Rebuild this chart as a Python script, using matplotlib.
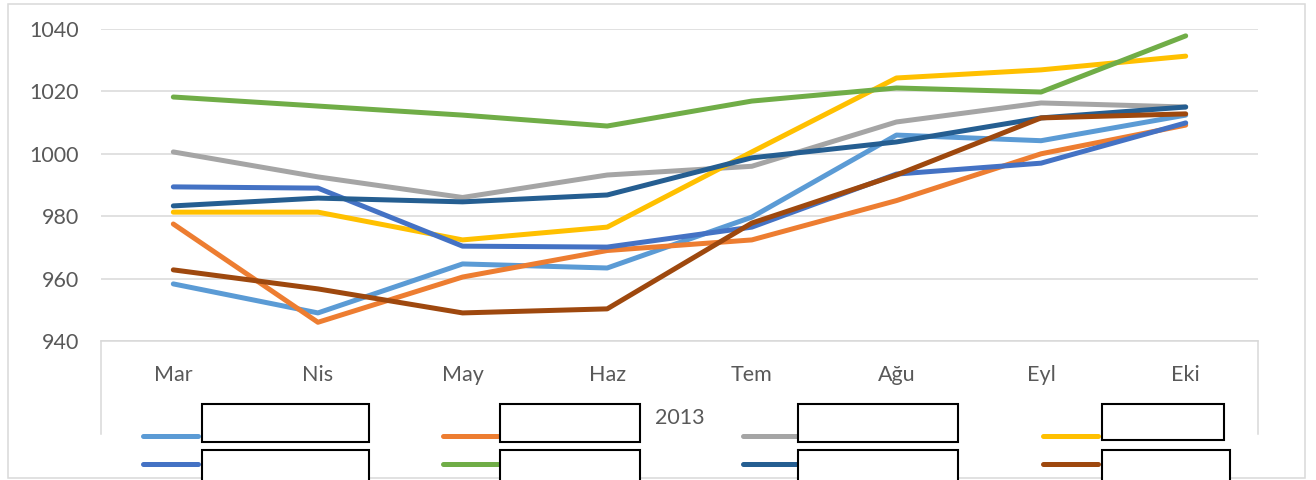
import matplotlib.pyplot as plt
from matplotlib.lines import Line2D
from matplotlib.patches import Rectangle

plt.rcParams['font.family'] = ['Lato', 'DejaVu Sans']

# category labels (months, 2013)
months = ["Mar", "Nis", "May", "Haz", "Tem", "Ağu", "Eyl", "Eki"]
year_label = "2013"

# series values
s1 = [958.3, 949.0, 964.7, 963.4, 979.7, 1006.0, 1004.2, 1012.4]
s2 = [977.5, 946.0, 960.5, 969.0, 972.4, 985.0, 1000.0, 1009.2]
s3 = [1000.6, 992.6, 986.0, 993.2, 996.0, 1010.2, 1016.3, 1015.0]
s4 = [981.3, 981.3, 972.4, 976.5, 1000.6, 1024.3, 1026.9, 1031.3]
s5 = [989.4, 989.0, 970.4, 970.1, 976.5, 993.5, 997.0, 1009.9]
s6 = [1018.2, 1015.3, 1012.4, 1008.9, 1016.9, 1021.1, 1019.8, 1037.8]
s7 = [983.3, 985.8, 984.6, 986.8, 998.7, 1003.8, 1011.5, 1015.0]
s8 = [962.8, 956.7, 949.0, 950.3, 977.8, 993.2, 1011.5, 1012.8]

series = [s1, s2, s3, s4, s5, s6, s7, s8]
colors = ["#5B9BD5", "#ED7D31", "#A5A5A5", "#FFC000",
          "#4472C4", "#70AD47", "#255E91", "#9E480E"]

W, H = 1316, 480
fig = plt.figure(figsize=(W / 100, H / 100), dpi=100)

# plot area in pixel terms
px_l, px_r, px_t, px_b = 101, 1258, 29, 341
ax = fig.add_axes([px_l / W, 1 - px_b / H, (px_r - px_l) / W, (px_b - px_t) / H])

x = list(range(len(months)))
for vals, c in zip(series, colors):
    ax.plot(x, vals, color=c, lw=3.6, solid_capstyle='round',
            solid_joinstyle='round', clip_on=False)

ax.set_xlim(-0.5, len(months) - 0.5)
ax.set_ylim(940, 1040)
ax.set_yticks(range(940, 1041, 20))
ax.set_xticks(x)
ax.set_xticklabels(months)
ax.yaxis.grid(True, color="#D9D9D9", lw=1.1)
ax.set_axisbelow(True)
for side in ["top", "left", "right"]:
    ax.spines[side].set_visible(False)
ax.spines["bottom"].set_color("#D9D9D9")
ax.spines["bottom"].set_linewidth(1.1)
ax.tick_params(axis='both', length=0, labelsize=15.5, labelcolor="#595959")
ax.tick_params(axis='y', pad=16)
ax.tick_params(axis='x', pad=17)

# second level category label
ax.text(0.5, -0.247, year_label, transform=ax.transAxes, ha='center',
        va='center', fontsize=15.5, color="#595959")

# category axis box sides
for px in (px_l, px_r):
    fig.add_artist(Line2D([px / W, px / W], [1 - px_b / H, 1 - 434 / H],
                          color="#D9D9D9", lw=1.1))

# outer chart frame
fig.add_artist(Rectangle((8 / W, 1 - 478 / H), (1305 - 8) / W, (478 - 4) / H,
                         transform=fig.transFigure, fill=False,
                         edgecolor="#D9D9D9", lw=1.1))

# legend: 4 columns, 2 rows
for i, c in enumerate(colors):
    col, row = i % 4, i // 4
    x0 = 143 + 300 * col
    y0 = 436 + 28 * row
    fig.add_artist(Line2D([x0 / W, (x0 + 55) / W], [1 - y0 / H, 1 - y0 / H],
                          color=c, lw=3.6, solid_capstyle='round'))

# white boxes hiding the legend names
boxes = [(202, 404, 369, 442), (500, 404, 640, 442), (798, 404, 958, 442),
         (1102, 404, 1224, 440), (202, 450, 369, 484), (500, 450, 640, 484),
         (798, 450, 958, 484), (1102, 450, 1230, 484)]
for bx0, by0, bx1, by1 in boxes:
    fig.add_artist(Rectangle((bx0 / W, 1 - by1 / H), (bx1 - bx0) / W,
                             (by1 - by0) / H, transform=fig.transFigure,
                             facecolor="white", edgecolor="black", lw=1.5,
                             zorder=10))

fig.savefig("out.png", dpi=100)
